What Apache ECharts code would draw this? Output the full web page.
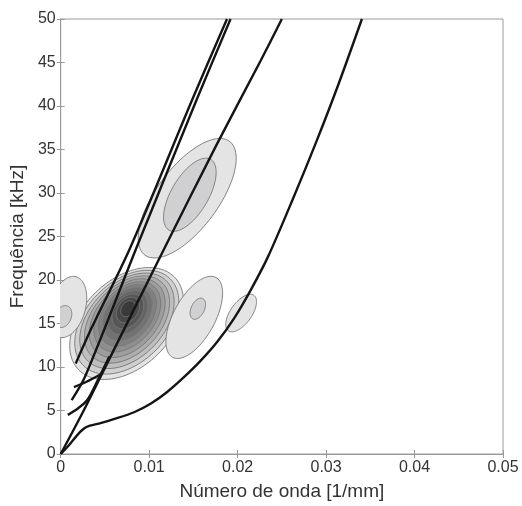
<!DOCTYPE html>
<html>
<head>
<meta charset="utf-8">
<script src="https://cdn.jsdelivr.net/npm/echarts@6/dist/echarts.min.js"></script>
<style>
html,body{margin:0;padding:0;background:#fff;}
#chart{width:522px;height:506px;}
</style>
</head>
<body>
<div id="chart"></div>
<script>
// ---------- data (x: wavenumber 1/mm, y: frequency kHz) ----------
var xTicks = [0, 0.01, 0.02, 0.03, 0.04, 0.05];
var yTicks = [0, 5, 10, 15, 20, 25, 30, 35, 40, 45, 50];

// dispersion curves
var curveLow = [[0,0],[0.001,1.1],[0.0019,2.2],[0.0026,2.9],[0.0033,3.25],[0.0045,3.55],[0.006,4.0],[0.0083,4.8],[0.0102,5.8],[0.012,7.1],[0.0139,8.8],[0.0158,10.7],[0.0177,12.9],[0.0196,15.6],[0.0214,18.7],[0.0234,22.6],[0.0262,29.2],[0.0289,35.9],[0.0314,42.5],[0.03405,50]];
var curveA = [[0,0],[0.0025,4.8],[0.005,9.9],[0.0118,23.8],[0.0176,35.5],[0.0226,45.2],[0.025,50]];
var curveB = [[0.0008,4.5],[0.0019,5.2],[0.003,6.2],[0.0041,8.3],[0.0055,11.2]];
var curveC = [[0.0015,7.7],[0.0028,8.25],[0.0046,9.2]];
var curveP1 = [[0.0017,10.4],[0.0035,14.5],[0.0079,23.8],[0.0149,40.8],[0.0188,50]];
var curveP2 = [[0.00124,6.2],[0.0028,9.0],[0.0086,23.8],[0.0154,40.8],[0.0192,50]];

// contour rings: [centre x (1/mm), centre y (kHz), semi-axis a, semi-axis b (kHz-equivalent), tilt deg, level]
var ringsMain = [
  [0.00745,15.00,7.60,5.00,45,1],
  [0.00747,15.15,7.00,4.60,46,2],
  [0.00749,15.31,6.40,4.20,47,3],
  [0.00750,15.46,5.80,3.82,48,4],
  [0.00752,15.62,5.20,3.44,49,5],
  [0.00753,15.77,4.60,3.06,50,6],
  [0.00755,15.93,4.00,2.68,51,7],
  [0.00756,16.08,3.40,2.30,52,8],
  [0.00758,16.24,2.80,1.92,53,9],
  [0.00759,16.39,2.20,1.54,54,10],
  [0.00760,16.55,1.60,1.14,55,11],
  [0.00760,16.70,1.00,0.72,55,12]
];
var ringsTop = [
  [0.0143,29.4,8.1,3.5,54,1],
  [0.0146,29.8,4.7,2.1,60,2]
];
var ringsLeft = [
  [0.0008,16.9,3.6,2.0,75,1],
  [0.0003,15.8,1.3,0.9,70,2]
];
var ringsMid = [
  [0.0151,15.7,5.2,2.35,62,1],
  [0.0155,16.7,1.3,0.75,65,2]
];
var ringsRight = [
  [0.0204,16.2,2.5,1.2,55,1]
];

// ---------- styles ----------
var levelColors = ['#ffffff','#e4e4e4','#d0d0d2','#bebebe','#adadad','#9d9d9d','#8e8e8e','#808080','#727272','#646464','#565656','#484848','#3a3a3a'];

var rings = ringsMain.concat(ringsTop, ringsLeft, ringsMid, ringsRight);

function renderRing(params, api) {
  var cx = api.value(0), cy = api.value(1), a = api.value(2), b = api.value(3);
  var ang = api.value(4) * Math.PI / 180, lvl = api.value(5);
  var pts = [];
  for (var i = 0; i < 96; i++) {
    var t = i / 96 * Math.PI * 2;
    var ex = a * Math.cos(t), ey = b * Math.sin(t);
    var rx = ex * Math.cos(ang) - ey * Math.sin(ang);
    var ry = ex * Math.sin(ang) + ey * Math.cos(ang);
    pts.push(api.coord([cx + rx / 1000, cy + ry]));
  }
  return {
    type: 'polygon',
    shape: { points: pts },
    style: { fill: levelColors[lvl], stroke: '#777777', lineWidth: 0.9 }
  };
}

var axisGray = '#9a9a9a';
var font = 'Liberation Sans, Arial, Helvetica, sans-serif';

function lineSeries(d) {
  return {
    type: 'line', data: d, showSymbol: false, smooth: 0.3, z: 5,
    lineStyle: { color: '#151515', width: 2.4 }, clip: true, silent: true
  };
}

var chart = echarts.init(document.getElementById('chart'), null, { renderer: 'canvas' });
chart.setOption({
  animation: false,
  backgroundColor: '#ffffff',
  grid: { left: 60, top: 19, width: 443, height: 442, show: true, borderColor: axisGray, borderWidth: 1, backgroundColor: 'transparent' },
  xAxis: [{
    type: 'value', min: xTicks[0], max: xTicks[xTicks.length - 1], interval: 0.01,
    name: 'Número de onda [1/mm]', nameLocation: 'middle', nameGap: 28,
    nameTextStyle: { fontSize: 19, color: '#333', fontFamily: font },
    axisLine: { show: true, lineStyle: { color: axisGray } },
    axisTick: { show: true, inside: true, length: 4, lineStyle: { color: axisGray } },
    axisLabel: { fontSize: 16, color: '#333', fontFamily: font, margin: 6,
      formatter: function (v) { return v === 0 ? '0' : v.toFixed(2); } },
    splitLine: { show: false }
  }, {
    type: 'value', position: 'top', min: xTicks[0], max: xTicks[xTicks.length - 1], interval: 0.01,
    axisLine: { show: true, lineStyle: { color: axisGray } },
    axisTick: { show: true, inside: true, length: 4, lineStyle: { color: axisGray } },
    axisLabel: { show: false }, splitLine: { show: false }
  }],
  yAxis: [{
    type: 'value', min: yTicks[0], max: yTicks[yTicks.length - 1], interval: 5,
    name: 'Frequência [kHz]', nameLocation: 'middle', nameGap: 30,
    nameTextStyle: { fontSize: 19, color: '#333', fontFamily: font },
    axisLine: { show: true, lineStyle: { color: axisGray } },
    axisTick: { show: true, inside: true, length: 4, lineStyle: { color: axisGray } },
    axisLabel: { fontSize: 16, color: '#333', fontFamily: font, margin: 5 },
    splitLine: { show: false }
  }, {
    type: 'value', position: 'right', min: yTicks[0], max: yTicks[yTicks.length - 1], interval: 5,
    axisLine: { show: true, lineStyle: { color: axisGray } },
    axisTick: { show: true, inside: true, length: 4, lineStyle: { color: axisGray } },
    axisLabel: { show: false }, splitLine: { show: false }
  }],
  series: [
    {
      type: 'custom', data: rings, renderItem: renderRing, clip: true, z: 1, silent: true,
      encode: { x: 0, y: 1 }
    },
    lineSeries(curveLow),
    lineSeries(curveA),
    lineSeries(curveB),
    lineSeries(curveC),
    lineSeries(curveP1),
    lineSeries(curveP2)
  ]
});
</script>
</body>
</html>
